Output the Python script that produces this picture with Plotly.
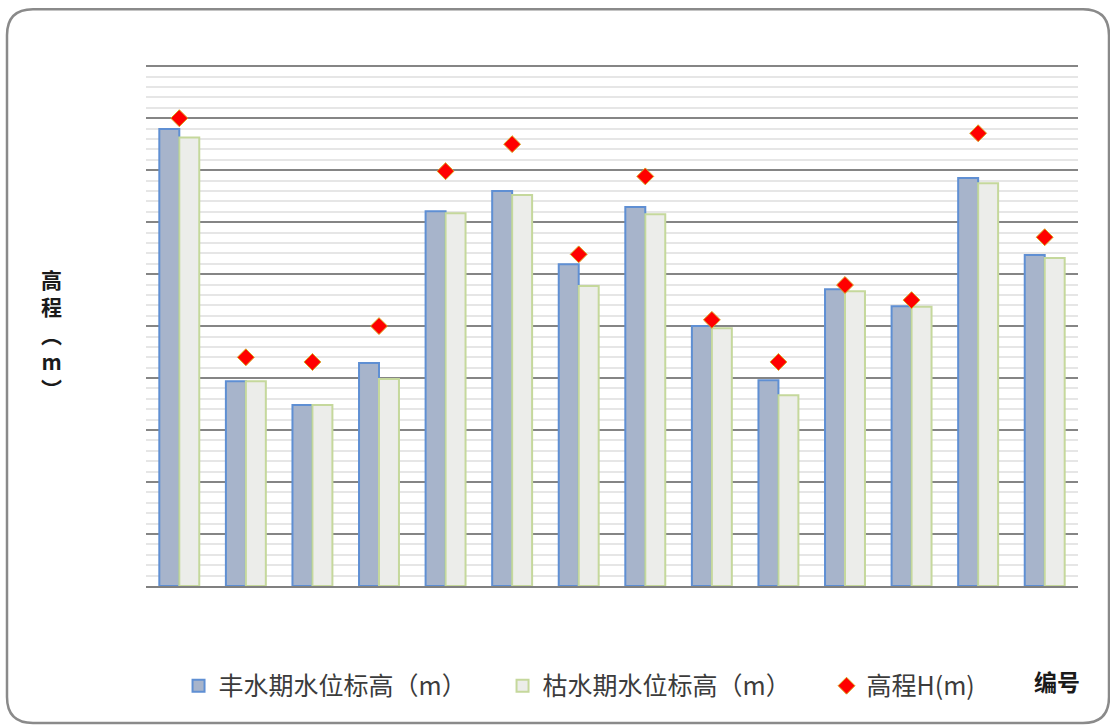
import plotly.graph_objects as go

categories = [str(i) for i in range(1, 15)]
wet_level = [87.9, 39.4, 34.8, 42.9, 72.1, 76.0, 61.9, 72.9, 50.0, 39.6, 57.1, 53.8, 78.5, 63.7]
dry_level = [86.3, 39.4, 34.8, 39.8, 71.7, 75.2, 57.7, 71.5, 49.6, 36.7, 56.7, 53.7, 77.5, 63.1]
elevation = [90.0, 44.0, 43.1, 50.0, 79.8, 85.0, 63.8, 78.8, 51.2, 43.1, 57.9, 55.0, 87.1, 67.1]

W, H = 1110, 725
L, R, B = 146, 1078, 586
UNIT = 5.2
YMAX = 101
T = B - YMAX * UNIT


def px(x):
    return (x - L) / (R - L)


def py(y):
    return (B - y) / (B - T)


fig = go.Figure()
fig.add_trace(go.Bar(
    x=categories, y=wet_level, name="丰水期水位标高（m）",
    marker=dict(color="#A7B4CB", line=dict(color="#5F8FD3", width=2)),
))
fig.add_trace(go.Bar(
    x=categories, y=dry_level, name="枯水期水位标高（m）",
    marker=dict(color="#ECEDEA", line=dict(color="#C5D89C", width=2)),
))
fig.add_trace(go.Scatter(
    x=categories, y=elevation, name="高程H(m)", mode="markers",
    marker=dict(symbol="diamond", size=13, color="#FF0000",
                line=dict(color="#D9A520", width=1)),
))

# rounded outer frame
x0, x1 = px(7), px(1109)
y0, y1 = py(9), py(723)
rx = 26 / (R - L)
ry = 26 / (B - T)
path = (f"M {x0+rx},{y0} L {x1-rx},{y0} Q {x1},{y0} {x1},{y0-ry} "
        f"L {x1},{y1+ry} Q {x1},{y1} {x1-rx},{y1} "
        f"L {x0+rx},{y1} Q {x0},{y1} {x0},{y1+ry} "
        f"L {x0},{y0-ry} Q {x0},{y0} {x0+rx},{y0} Z")
fig.add_shape(type="path", path=path, xref="paper", yref="paper",
              line=dict(color="#8A8A8A", width=2.5), layer="below")

font_cjk = "Noto Sans CJK SC"
fig.add_annotation(text="<b>高<br>程<br>︵<br>m<br>︶</b>", x=px(51), y=py(333),
                   xref="paper", yref="paper", showarrow=False, align="center",
                   xanchor="center", yanchor="middle",
                   font=dict(family=font_cjk, size=21, color="#1a1a1a"))
fig.add_annotation(text="<b>编号</b>", x=px(1057), y=py(681), xref="paper", yref="paper",
                   xanchor="center", yanchor="middle",
                   showarrow=False, font=dict(family=font_cjk, size=23, color="#1a1a1a"))

fig.update_layout(
    width=W, height=H,
    margin=dict(l=L, r=W - R, t=T, b=H - B, autoexpand=False),
    paper_bgcolor="white", plot_bgcolor="white",
    barmode="group", bargap=0.4, bargroupgap=0,
    showlegend=True,
    legend=dict(orientation="h", x=-0.0005, y=py(686), xanchor="left", yanchor="middle",
                indentation=33, entrywidth=246, entrywidthmode="pixels",
                font=dict(family=font_cjk, size=25, color="#3C3C3C"),
                bgcolor="rgba(0,0,0,0)"),
    xaxis=dict(range=[-0.5, 13.5], showticklabels=False, ticks="", showgrid=False,
               zeroline=False, showline=True, linecolor="#808080", linewidth=2),
    yaxis=dict(range=[0, YMAX], dtick=10, tick0=0, showticklabels=False, ticks="",
               showgrid=True, gridcolor="#858585", gridwidth=2, zeroline=False,
               minor=dict(dtick=2, showgrid=True, gridcolor="#E6E6E6", gridwidth=1.5)),
)

fig.write_html("out.html")
